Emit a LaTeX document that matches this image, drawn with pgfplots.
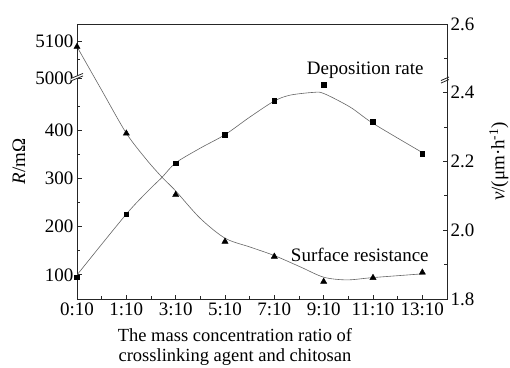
\documentclass[border=0pt]{standalone}
\usepackage{fontspec}
\setmainfont{Liberation Serif}
\usepackage{pgfplots}
\pgfplotsset{compat=1.18}
\begin{document}
\begin{tikzpicture}
\pgfplotsset{
 base/.style={scale only axis, width=370pt, height=275pt, xmin=0, xmax=7.5,
  axis line style={line width=0.9pt, black!85},
  tick style={line width=0.8pt, black!85},
  tick align=inside, major tick length=4.5pt, minor tick length=3pt,
  ticklabel style={font=\fontsize{19}{22}\selectfont},
  /pgf/number format/assume math mode=true,
  label style={font=\fontsize{19}{22}\selectfont},
 },
}
\begin{axis}[base, name=ax,
 xtick={0,...,7}, xticklabels={0:10,1:10,3:10,5:10,7:10,9:10,11:10,13:10},
 minor xtick={0.5,1.5,2.5,3.5,4.5,5.5,6.5},
 xtick pos=left,
 y coord trafo/.code={\pgfmathparse{#1>2000 ? 508+(#1-5000)*0.76 : #1}},
 ymin=50, ymax=5147,
 ytick={100,200,300,400,5000,5100}, yticklabels={100,200,300,400,5000,5100},
 minor ytick={150,250,350,450,5050},
 ytick pos=left,
 xlabel={The mass concentration ratio of\\crosslinking agent and chitosan},
 xlabel style={font=\fontsize{18.5}{19.5}\selectfont, align=center, inner sep=0pt,
   at={(axis description cs:0.427,-0.107)}, anchor=north},
 ylabel={\textit{R}/mΩ},
 ylabel style={at={(axis description cs:-0.157,0.5)}, anchor=center},
]
\addplot[smooth, black!60, line width=0.6pt] coordinates {
 (0,5085) (0.5,482.6) (1,393.4) (1.414,338.1) (1.724,302.3) (2,273.9)
 (2.495,217.4) (3,176.0) (3.509,157.6) (4,140.0) (4.53,116.4) (5,95.2)
 (5.47,89.6) (6,94.4) (7,102.1)};
\addplot[only marks, mark=triangle*, mark size=3.6pt, black] coordinates {
 (0,5085) (1,393) (2,266) (3,169) (4,138) (5,86) (6,94) (7,105)};
\coordinate (bl) at (axis cs:0,5000);
\node[anchor=base west, font=\fontsize{19}{22}\selectfont] at (axis cs:4.266,127.5) {Surface resistance};
\end{axis}
\begin{axis}[base,
 axis x line=none, axis y line*=right,
 ymin=1.8, ymax=2.6,
 ytick={1.8,2.0,2.2,2.4,2.6}, minor y tick num=1,
 yticklabel style={/pgf/number format/.cd, fixed, fixed zerofill, precision=1},
 ylabel={\textit{v}/(μm·h\textsuperscript{-1})},
 ylabel style={at={(axis description cs:1.1405,0.5)}, anchor=center},
]
\addplot[smooth, black!60, line width=0.6pt] coordinates {
 (0,1.870) (1,2.047) (1.48,2.120) (1.724,2.154) (2,2.196) (2.5,2.239) (3,2.278)
 (3.5,2.329) (4,2.376) (4.32,2.393) (4.79,2.401) (5,2.398) (5.54,2.358)
 (6,2.311) (7,2.226)};
\addplot[only marks, mark=square*, mark size=2.35pt, black] coordinates {
 (0,1.863) (1,2.047) (2,2.195) (3,2.278) (4,2.376) (5,2.423) (6,2.316) (7,2.223)};
\coordinate (br) at (axis cs:7.5,2.437);
\node[anchor=base west, font=\fontsize{19}{22}\selectfont] at (axis cs:4.59,2.4545) {Deposition rate};
\end{axis}
% axis break marks
\fill[white] ([shift={(-6pt,-3pt)}]bl) -- ++(12pt,5pt) -- ++(0,2.5pt) -- ++(-12pt,-5pt) -- cycle;
\draw[black!85, line width=0.8pt] ([shift={(-6pt,-3pt)}]bl) -- ++(12pt,5pt);
\draw[black!85, line width=0.8pt] ([shift={(-6pt,-0.5pt)}]bl) -- ++(12pt,5pt);
\draw[black!85, line width=0.8pt] ([shift={(-6pt,-3pt)}]br) -- ++(8pt,3.5pt);
\draw[black!85, line width=0.8pt] ([shift={(-6pt,-0.5pt)}]br) -- ++(8pt,3.5pt);
\pgfresetboundingbox
\path[use as bounding box] ([shift={(-77pt,-68pt)}]ax.south west) rectangle ([shift={(63pt,24pt)}]ax.north east);
\end{tikzpicture}
\end{document}
